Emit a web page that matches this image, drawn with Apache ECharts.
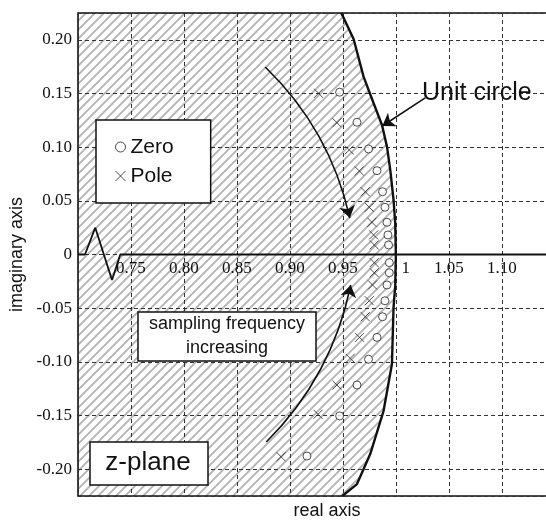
<!DOCTYPE html>
<html><head><meta charset="utf-8">
<script src="https://cdn.jsdelivr.net/npm/echarts@6/dist/echarts.min.js"></script>
<style>html,body{margin:0;padding:0;background:#fff}#c{width:546px;height:521px}</style>
</head><body><div id="c"></div>
<script>
// ---- data (z-plane) ----
const zeroX = [0.9469,0.9633,0.9742,0.9822,0.9874,0.9897,0.9916,0.9925,0.9931,0.9938,0.9938,0.9916,0.9897,0.9874,0.9822,0.9742,0.9633,0.9469,0.9161];
const zeroY = [0.1512,0.1232,0.0983,0.0781,0.0585,0.0440,0.0300,0.0182,0.0089,-0.0076,-0.0170,-0.0284,-0.0431,-0.0580,-0.0772,-0.0976,-0.1216,-0.1504,-0.1878];
const poleX = [0.9270,0.9444,0.9560,0.9655,0.9711,0.9749,0.9774,0.9790,0.9796,0.9796,0.9796,0.9780,0.9749,0.9711,0.9657,0.9569,0.9444,0.9265,0.8916];
const poleY = [0.1502,0.1228,0.0974,0.0778,0.0585,0.0440,0.0300,0.0182,0.0089,-0.0076,-0.0170,-0.0284,-0.0431,-0.0580,-0.0772,-0.0967,-0.1216,-0.1489,-0.1884];
// unit circle arc as drawn
const circleX = [0.9485,0.9601,0.9695,0.9790,0.9869,0.9916,0.9947,0.9978,0.9994,1.0000,0.9994,0.9978,0.9963,0.9884,0.9758,0.9633,0.9494];
const circleY = [0.225,0.2008,0.1657,0.1409,0.1207,0.1005,0.0788,0.0508,0.0291,0,-0.0291,-0.0492,-0.1020,-0.1456,-0.1859,-0.2139,-0.225];
// real axis with break mark
const axisBreakX = [0.70,0.7066,0.7163,0.7321,0.7399,1.17];
const axisBreakY = [0,0,0.0250,-0.0238,0,0];
// annotation arrows [start, end]
const arrowDown = [[0.8767,0.1747],[0.9565,0.0340]];
const arrowUp = [[0.8777,-0.1747],[0.9574,-0.0284]];
const arrowUnit = [[1.0277,0.1459],[0.9872,0.1197]];
const xMin = 0.70, xMax = 1.17, xStep = 0.05, xLastLabel = 1.10;
const yMin = -0.225, yMax = 0.225;

const zip = (a, b) => a.map((v, i) => [v, b[i]]);

// hatch pattern
const T = 9;
const pat = document.createElement('canvas');
pat.width = T; pat.height = T;
const g = pat.getContext('2d');
g.strokeStyle = '#b3b3b3'; g.lineWidth = 1.8;
g.beginPath();
g.moveTo(-1, T + 1); g.lineTo(T + 1, -1);
g.moveTo(-T / 2 - 1, T / 2 + 1); g.lineTo(T / 2 + 1, -T / 2 - 1);
g.moveTo(T / 2 - 1, 1.5 * T + 1); g.lineTo(1.5 * T + 1, T / 2 - 1);
g.stroke();

const serif = '"Liberation Serif", "Times New Roman", serif';
const sans = '"Liberation Sans", Arial, sans-serif';

const chart = echarts.init(document.getElementById('c'));
chart.setOption({
  animation: false,
  backgroundColor: '#fff',
  grid: { left: 78, top: 13, width: 498, height: 483, show: true, borderColor: '#111', borderWidth: 1.6, backgroundColor: 'transparent', outerBoundsMode: 'none', containLabel: false },
  xAxis: {
    type: 'value', min: xMin, max: xMax, interval: xStep, position: 'bottom',
    axisLine: { show: false, onZero: false },
    axisTick: { show: false },
    splitLine: { show: true, lineStyle: { color: '#333', type: [4, 3], width: 1 } },
    axisLabel: {
      // labels sit just under the real axis (y = 0), inside the plot
      margin: -236, color: '#111', fontFamily: serif, fontSize: 17,
      formatter: v => {
        if (Math.abs(v - xMin) < 1e-9 || v > xLastLabel + 1e-9) return '';
        if (Math.abs(v - 1) < 1e-9) return '{one|1}';
        return v.toFixed(2);
      },
      rich: { one: { fontFamily: serif, fontSize: 17, color: '#111', padding: [0, 0, 0, 20] } }
    },
    name: 'real axis', nameLocation: 'middle', nameGap: 6, nameMoveOverlap: false,
    nameTextStyle: { fontFamily: sans, fontSize: 18, color: '#111' }
  },
  yAxis: {
    type: 'value', min: yMin, max: yMax, splitNumber: 9,
    axisLine: { show: false }, axisTick: { show: false },
    splitLine: { show: true, lineStyle: { color: '#333', type: [4, 3], width: 1 } },
    axisLabel: {
      margin: 6, color: '#111', fontFamily: serif, fontSize: 17,
      formatter: v => {
        if (Math.abs(v * 20 - Math.round(v * 20)) > 1e-6) return '';
        if (Math.abs(v) < 1e-9) return '0';
        return v.toFixed(2);
      }
    },
    name: 'imaginary axis', nameLocation: 'middle', nameGap: 48,
    nameTextStyle: { fontFamily: sans, fontSize: 18, color: '#111' }
  },
  legend: {
    orient: 'vertical', left: 96, top: 120,
    padding: [16, 37, 16, 19], itemGap: 7, itemWidth: 10, itemHeight: 10,
    backgroundColor: '#fff', borderColor: '#111', borderWidth: 1.5,
    textStyle: { fontFamily: sans, fontSize: 21, color: '#111', lineHeight: 22 },
    data: [
      { name: 'Zero', icon: 'circle', itemStyle: { color: '#fff', borderColor: '#222', borderWidth: 1 } },
      { name: 'Pole', icon: 'path://M0,0L10,10M10,0L0,10', itemStyle: { color: 'rgba(0,0,0,0)', borderColor: '#222', borderWidth: 1 } }
    ],
    z: 20
  },
  series: [
    {
      type: 'custom', name: 'hatch', z: -1, silent: true, data: [0],
      renderItem: (params, api) => {
        const pts = [api.coord([xMin, yMax])];
        for (let i = 0; i < circleX.length; i++) pts.push(api.coord([circleX[i], circleY[i]]));
        pts.push(api.coord([xMin, yMin]));
        return { type: 'polygon', shape: { points: pts }, style: { fill: { image: pat, repeat: 'repeat' }, stroke: null } };
      }
    },
    {
      type: 'line', name: 'unit circle', data: zip(circleX, circleY), showSymbol: false, symbol: 'none',
      lineStyle: { color: '#111', width: 2.4 }, silent: true, z: 5
    },
    {
      type: 'line', name: 'axis', data: zip(axisBreakX, axisBreakY), symbol: 'none',
      lineStyle: { color: '#111', width: 1.8 }, silent: true, z: 5
    },
    {
      type: 'scatter', name: 'Zero', data: zip(zeroX, zeroY), symbol: 'circle', symbolSize: 8,
      itemStyle: { color: '#fff', borderColor: '#222', borderWidth: 1 }, z: 6
    },
    {
      type: 'scatter', name: 'Pole', data: zip(poleX, poleY), symbol: 'path://M0,0L10,10M10,0L0,10', symbolSize: 9,
      itemStyle: { color: 'rgba(0,0,0,0)', borderColor: '#222', borderWidth: 1 }, z: 6
    },
    {
      type: 'lines', coordinateSystem: 'cartesian2d', silent: true, z: 7,
      symbol: ['none', 'arrow'], symbolSize: [8, 12],
      lineStyle: { color: '#111', width: 1.6, opacity: 1 },
      data: [
        { coords: arrowDown, lineStyle: { curveness: 0.15 } },
        { coords: arrowUp, lineStyle: { curveness: -0.15 } },
        { coords: arrowUnit, lineStyle: { curveness: 0 } }
      ]
    }
  ],
  graphic: [
    { type: 'text', x: 422, y: 93, z: 100, style: { text: 'Unit circle', font: '25px ' + sans, fill: '#111', align: 'left', verticalAlign: 'middle' } },
    { type: 'rect', z: 100, shape: { x: 138, y: 312, width: 178, height: 49 }, style: { fill: '#fff', stroke: '#111', lineWidth: 1.5 } },
    { type: 'text', x: 227, y: 336, z: 101, style: { text: 'sampling frequency\nincreasing', font: '18px ' + sans, lineHeight: 24, fill: '#111', align: 'center', verticalAlign: 'middle' } },
    { type: 'rect', z: 100, shape: { x: 90, y: 442, width: 118, height: 43 }, style: { fill: '#fff', stroke: '#111', lineWidth: 1.5 } },
    { type: 'text', x: 148, y: 463, z: 101, style: { text: 'z-plane', font: '26px ' + sans, fill: '#111', align: 'center', verticalAlign: 'middle' } }
  ]
});
</script></body></html>
